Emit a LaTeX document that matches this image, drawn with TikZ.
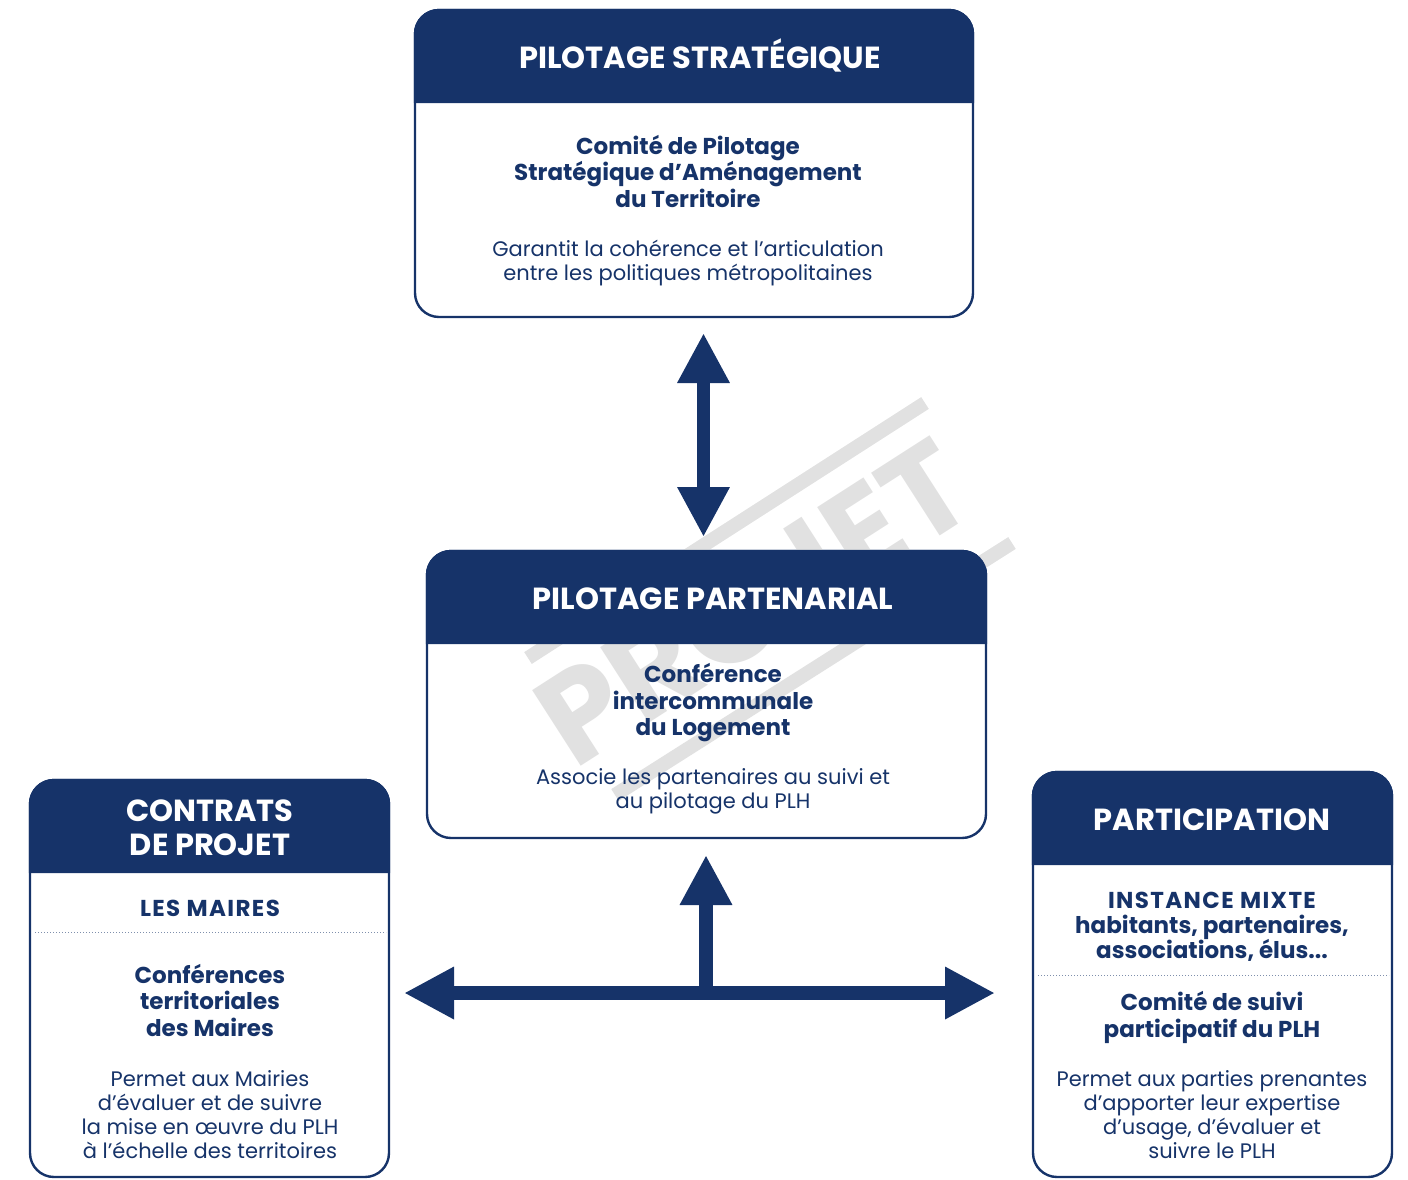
\documentclass[tikz,border=0pt]{standalone}
\usepackage{fontspec}
\setmainfont{Poppins}
\usetikzlibrary{arrows.meta}
\definecolor{navy}{RGB}{22,51,105}
\definecolor{wmgray}{RGB}{225,225,225}
\newcommand\mkheader[1]{\filldraw[navy, line width=2.4pt] ([yshift=-92pt]#1.north west) [rounded corners=24pt]-- (#1.north west) -- (#1.north east) [sharp corners]-- ([yshift=-92pt]#1.north east) -- cycle;}
\newcommand\capsp[1]{{\addfontfeatures{LetterSpace=6}#1}}
\tikzset{
  box/.style={draw=navy, line width=2.4pt, fill=white, rounded corners=24pt, inner sep=0pt, outer sep=0pt, anchor=north west},
  titletxt/.style={text=white, font=\fontsize{30.5}{34}\selectfont\bfseries, align=center, anchor=base, inner sep=0pt},
  boldtxt/.style={text=navy, font=\fontsize{23}{26.5}\selectfont\bfseries, align=center, anchor=base, inner sep=0pt},
  regtxt/.style={text=navy, font=\fontsize{21}{24}\selectfont, align=center, anchor=base, inner sep=0pt},
  dotline/.style={draw=navy!55, line width=1pt, dash pattern=on 1pt off 2pt},
  bigarr/.style={draw=navy, line width=13.5pt, >={Triangle[width=49pt,length=50pt]}},
  wmark/.style={draw=wmgray, line width=14pt},
}
\begin{document}
\begin{tikzpicture}[x=1pt,y=-1pt]
\useasboundingbox (0,0) rectangle (1408,1179);
% boxes
\node[box, minimum width=558pt, minimum height=307pt] (strat) at (415,10) {};
\node[box, minimum width=559pt, minimum height=287pt] (parten) at (427,551) {};
\node[box, minimum width=359pt, minimum height=397pt] (contrats) at (30,780) {};
\node[box, minimum width=359pt, minimum height=405pt] (partic) at (1033,772) {};
% watermark
\draw[wmark] (528,658) -- (925,403);
\draw[wmark] (615,795) -- (1012,543);
\node[rotate=32.7, anchor=base, text=wmgray, inner sep=0pt, font=\fontsize{128}{128}\selectfont\bfseries] (wmtext) at (778,640) {PROJET};
% headers
\mkheader{strat}
\mkheader{parten}
\mkheader{contrats}
\mkheader{partic}
% dotted separators
\draw[dotline] (35,932) -- (386,932);
\draw[dotline] (1038,975) -- (1389,975);
% arrows
\coordinate (ax) at (703.5,0);
\coordinate (hy) at (0,993);
\coordinate (vx) at (706,993);
\draw[bigarr, <->, shorten <=16pt, shorten >=14pt] (strat.south -| ax) -- (parten.north -| ax);
\draw[bigarr, <->, shorten <=15pt, shorten >=38pt] (contrats.east |- hy) -- (partic.west |- hy);
\draw[bigarr, ->, shorten >=17pt] (vx) -- (parten.south -| vx);
% texts (anchor = baseline of the last line)
\node[titletxt] (h1) at (700,68.5) {PILOTAGE STRATÉGIQUE};
\node[boldtxt] (b1) at (688,207) {Comité de Pilotage\\Stratégique d’Aménagement\\du Territoire};
\node[regtxt] (r1) at (688,280) {Garantit la cohérence et l’articulation\\entre les politiques métropolitaines};
\node[titletxt] (h2) at (713,609) {PILOTAGE PARTENARIAL};
\node[boldtxt] (b2) at (713,735.5) {Conférence\\intercommunale\\du Logement};
\node[regtxt] (r2) at (713,808) {Associe les partenaires au suivi et\\au pilotage du PLH};
\node[titletxt] (h3) at (210,855) {CONTRATS\\DE PROJET};
\node[boldtxt] (m3) at (210,916) {\capsp{LES MAIRES}};
\node[boldtxt] (b3) at (210,1036) {Conférences\\territoriales\\des Maires};
\node[regtxt] (r3) at (210,1158.7) {Permet aux Mairies\\d’évaluer et de suivre\\la mise en œuvre du PLH\\à l’échelle des territoires};
\node[titletxt] (h4) at (1212,830) {PARTICIPATION};
\node[boldtxt, font=\fontsize{23}{25.3}\selectfont\bfseries] (m4) at (1212,958.9) {\capsp{INSTANCE MIXTE}\\habitants, partenaires,\\associations, élus...};
\node[boldtxt] (b4) at (1212,1037.2) {Comité de suivi\\participatif du PLH};
\node[regtxt] (r4) at (1212,1158) {Permet aux parties prenantes\\d’apporter leur expertise\\d’usage, d’évaluer et\\suivre le PLH};
\end{tikzpicture}
\end{document}
